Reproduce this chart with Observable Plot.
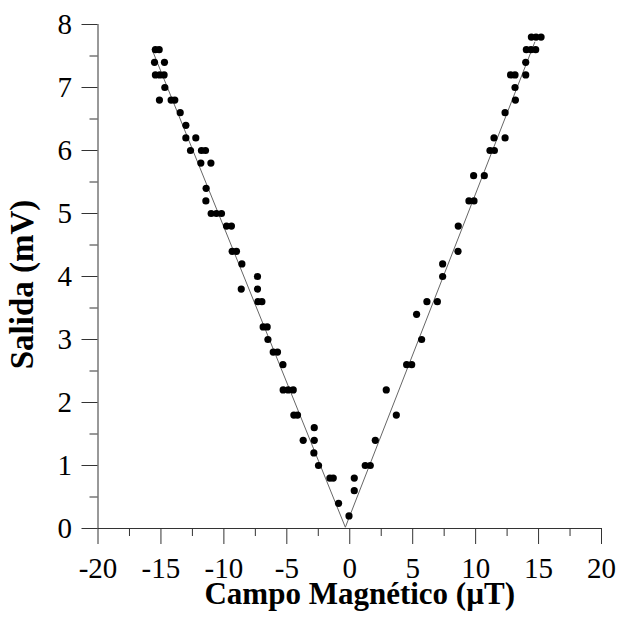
<!DOCTYPE html>
<html>
<head>
<meta charset="utf-8">
<script src="https://cdn.jsdelivr.net/npm/d3@7"></script>
<script src="https://cdn.jsdelivr.net/npm/@observablehq/plot@0.6"></script>
<style>
  html, body { margin: 0; padding: 0; background: #fff; }
  #chart svg g[aria-label="x-axis tick label"],
  #chart svg g[aria-label="y-axis tick label"] { font-size: 29px; }
</style>
</head>
<body>
<div id="chart"></div>
<script>
// Measured data: magnetic field (µT) vs output (mV)
const fieldX = [
  -15.44, -15.14, -15.51, -14.72, -15.44, -15.09, -14.75, -14.69,
  -15.12, -14.19, -13.90, -13.47, -13.02, -13.02, -12.23,
  -12.65, -11.78, -11.46, -11.83, -11.03, -11.41, -11.43,
  -11.01, -10.59, -10.19, -9.79, -9.40, -9.34, -9.00, -8.57,
  -7.33, -8.62, -7.33, -7.30, -6.98, -6.88, -6.56, -6.50,
  -6.08, -5.74, -5.31, -5.29, -4.89, -4.49, -4.44, -4.15,
  -2.82, -3.70, -2.82, -2.85, -2.48, -1.58, -1.31, -0.89, -0.06,
  0.36, 0.36, 1.23, 1.63, 2.03, 3.70, 2.90, 4.52, 4.92, 5.71, 5.31,
  6.13, 6.96, 7.38, 7.38, 8.60, 8.62, 9.47, 9.87, 9.84, 10.69,
  11.14, 11.49, 11.46, 12.34, 12.34, 13.16, 13.13, 12.78, 13.13, 13.98,
  13.98, 14.03, 14.40, 14.77, 14.43, 14.80, 15.20
];
const outputY = [
  7.6, 7.6, 7.4, 7.4, 7.2, 7.2, 7.2, 7.0,
  6.8, 6.8, 6.8, 6.6, 6.4, 6.2, 6.2,
  6.0, 6.0, 6.0, 5.8, 5.8, 5.4, 5.2,
  5.0, 5.0, 5.0, 4.8, 4.8, 4.4, 4.4, 4.2,
  4.0, 3.8, 3.8, 3.6, 3.6, 3.2, 3.2, 3.0,
  2.8, 2.8, 2.6, 2.2, 2.2, 2.2, 1.8, 1.8,
  1.6, 1.4, 1.4, 1.2, 1.0, 0.8, 0.8, 0.4, 0.2,
  0.6, 0.8, 1.0, 1.0, 1.4, 1.8, 2.2, 2.6, 2.6, 3.0, 3.4,
  3.6, 3.6, 4.0, 4.2, 4.4, 4.8, 5.2, 5.2, 5.6, 5.6,
  6.0, 6.0, 6.2, 6.2, 6.6, 6.8, 7.0, 7.2, 7.2, 7.2,
  7.4, 7.6, 7.6, 7.6, 7.8, 7.8, 7.8
];
// Fitted V-shaped response line
const fitX = [-15.7, -0.35, 14.7];
const fitY = [7.6, 0.02, 7.72];

const xTicks = [-20, -15, -10, -5, 0, 5, 10, 15, 20];
const xMinorTicks = [-17.5, -12.5, -7.5, -2.5, 2.5, 7.5, 12.5, 17.5];
const yTicks = [0, 1, 2, 3, 4, 5, 6, 7, 8];
const yMinorTicks = [0.5, 1.5, 2.5, 3.5, 4.5, 5.5, 6.5, 7.5];

const xTitle = "Campo Magnético (µT)";
const yTitle = "Salida (mV)";

const axisColor = "#333";

const chart = Plot.plot({
  width: 619,
  height: 617,
  marginLeft: 97.5,
  marginRight: 18,
  marginTop: 24,
  marginBottom: 89,
  style: {
    fontFamily: "'Liberation Serif', 'Times New Roman', serif",
    background: "#fff",
    color: "#000"
  },
  x: { domain: [-20, 20] },
  y: { domain: [0, 8] },
  marks: [
    Plot.ruleY([0], { stroke: axisColor, strokeWidth: 1 }),
    Plot.ruleX([-20], { stroke: axisColor, strokeWidth: 1 }),
    Plot.axisX({
      ticks: xTicks, tickSize: 16, tickPadding: 13, fontSize: 29,
      tickFormat: d => String(d), label: null, stroke: axisColor
    }),
    Plot.axisX({
      ticks: xMinorTicks, tickSize: 8, tickFormat: () => "", label: null, stroke: axisColor
    }),
    Plot.axisY({
      ticks: yTicks, tickSize: 16, tickPadding: 10, fontSize: 29,
      tickFormat: d => String(d), label: null, stroke: axisColor
    }),
    Plot.axisY({
      ticks: yMinorTicks, tickSize: 8, tickFormat: () => "", label: null, stroke: axisColor
    }),
    Plot.line(fitX.map((x, i) => ({ x, y: fitY[i] })), {
      x: "x", y: "y", stroke: "#666", strokeWidth: 1
    }),
    Plot.dot(fieldX.map((x, i) => ({ x, y: outputY[i] })), {
      x: "x", y: "y", r: 3.6, fill: "#000", stroke: "none"
    }),
    Plot.text([xTitle], {
      frameAnchor: "bottom", lineAnchor: "middle", textAnchor: "middle",
      dx: 10, dy: 66,
      fontSize: 31, fontWeight: "bold", fill: "#000"
    }),
    Plot.text([yTitle], {
      frameAnchor: "left", lineAnchor: "middle", textAnchor: "middle",
      rotate: -90, dx: -75.5, dy: 8,
      fontSize: 33, fontWeight: "bold", fill: "#000"
    })
  ]
});

document.getElementById("chart").appendChild(chart);
</script>
</body>
</html>
